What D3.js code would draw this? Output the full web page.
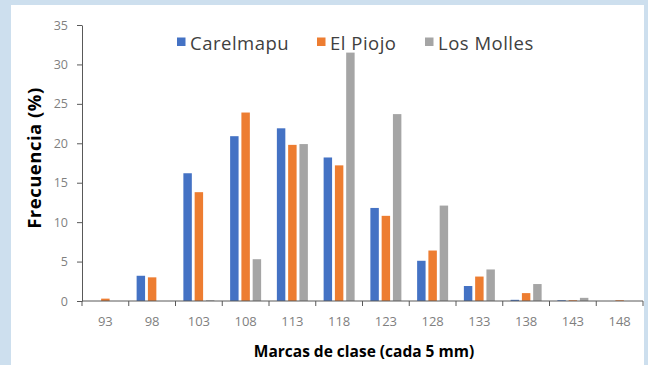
<!DOCTYPE html>
<html>
<head>
<meta charset="utf-8">
<script src="https://cdn.jsdelivr.net/npm/d3@7"></script>
<style>
  html, body { margin: 0; padding: 0; background: #cddfee; }
  svg { display: block; }
</style>
</head>
<body>
<svg id="chart" width="648" height="365"></svg>
<script>
// Size classes (mm) and frequency (%) per locality
const categories = ["93", "98", "103", "108", "113", "118", "123", "128", "133", "138", "143", "148"];
const seriesNames = ["Carelmapu", "El Piojo", "Los Molles"];
const carelmapu = [0, 3.2, 16.2, 20.9, 21.9, 18.2, 11.8, 5.1, 1.9, 0.15, 0.1, 0];
const elPiojo   = [0.3, 3.0, 13.8, 23.9, 19.8, 17.2, 10.8, 6.4, 3.1, 1.0, 0.1, 0.1];
const losMolles = [0, 0, 0.1, 5.3, 19.9, 31.5, 23.7, 12.1, 4.0, 2.15, 0.4, 0];
const yTicks = [0, 5, 10, 15, 20, 25, 30, 35];
const colors = ["#4472C4", "#ED7D31", "#A5A5A5"];

const seriesValues = [carelmapu, elPiojo, losMolles];
const svg = d3.select("#chart");
const font = "'Open Sans', Lato, sans-serif";

// white chart panel
svg.append("rect").attr("x", 11).attr("y", 5).attr("width", 633).attr("height", 360).attr("fill", "#ffffff");

const plotL = 82, plotR = 643, plotT = 25, plotB = 301;

const x0 = d3.scaleBand().domain(categories).range([plotL, plotR]).padding(0);
const y = d3.scaleLinear().domain([0, 35]).range([plotB, plotT]);

// bars, grouped by size class
const groupW = 31;
const x1 = d3.scaleBand().domain(seriesNames).range([-groupW / 2, groupW / 2]).paddingInner(0.25).paddingOuter(0);

seriesNames.forEach((name, si) => {
  svg.append("g").selectAll("rect")
    .data(categories.map((c, i) => ({ c, v: seriesValues[si][i] })))
    .join("rect")
    .attr("x", d => x0(d.c) + x0.bandwidth() / 2 + x1(name))
    .attr("width", x1.bandwidth())
    .attr("y", d => y(d.v))
    .attr("height", d => plotB - y(d.v))
    .attr("fill", colors[si]);
});

// y axis
const yAxis = svg.append("g").attr("transform", `translate(${plotL},0)`)
  .call(d3.axisLeft(y).tickValues(yTicks).tickSize(5).tickPadding(9).tickSizeOuter(0));
yAxis.select(".domain").attr("stroke", "#595959");
yAxis.selectAll(".tick line").attr("stroke", "#595959");
yAxis.selectAll("text").attr("fill", "#7f7f7f").style("font-family", font).style("font-size", "12.5px");

// x axis: ticks at class boundaries
const xAxis = svg.append("g").attr("transform", `translate(0,${plotB})`);
xAxis.append("line").attr("x1", plotL).attr("x2", plotR).attr("y1", 0).attr("y2", 0).attr("stroke", "#595959");
const bounds = categories.map(c => x0(c)).concat([plotR]);
xAxis.selectAll("line.tk").data(bounds).join("line").attr("class", "tk")
  .attr("x1", d => d).attr("x2", d => d).attr("y1", 0).attr("y2", 5).attr("stroke", "#595959");
xAxis.selectAll("text").data(categories).join("text")
  .attr("x", d => x0(d) + x0.bandwidth() / 2)
  .attr("y", 25)
  .attr("text-anchor", "middle")
  .attr("fill", "#7f7f7f")
  .style("font-family", font).style("font-size", "13px")
  .text(d => d);

// axis titles
svg.append("text")
  .attr("transform", "translate(41,158) rotate(-90)")
  .attr("text-anchor", "middle")
  .attr("fill", "#000")
  .style("font-family", font).style("font-size", "18.5px").style("font-weight", "bold")
  .style("letter-spacing", "0.5px")
  .text("Frecuencia (%)");

svg.append("text")
  .attr("x", 364).attr("y", 357)
  .attr("text-anchor", "middle")
  .attr("fill", "#000")
  .style("font-family", font).style("font-size", "15.5px").style("font-weight", "bold")
  .text("Marcas de clase (cada 5 mm)");

// legend
const legendX = [177, 317, 425];
const legend = svg.append("g");
seriesNames.forEach((name, i) => {
  legend.append("rect").attr("x", legendX[i]).attr("y", 37.5).attr("width", 8.5).attr("height", 8.5).attr("fill", colors[i]);
  legend.append("text").attr("x", legendX[i] + 13).attr("y", 50)
    .attr("fill", "#404040")
    .style("font-family", font).style("font-size", "18.5px")
    .style("letter-spacing", "0.5px")
    .text(name);
});
</script>
</body>
</html>
